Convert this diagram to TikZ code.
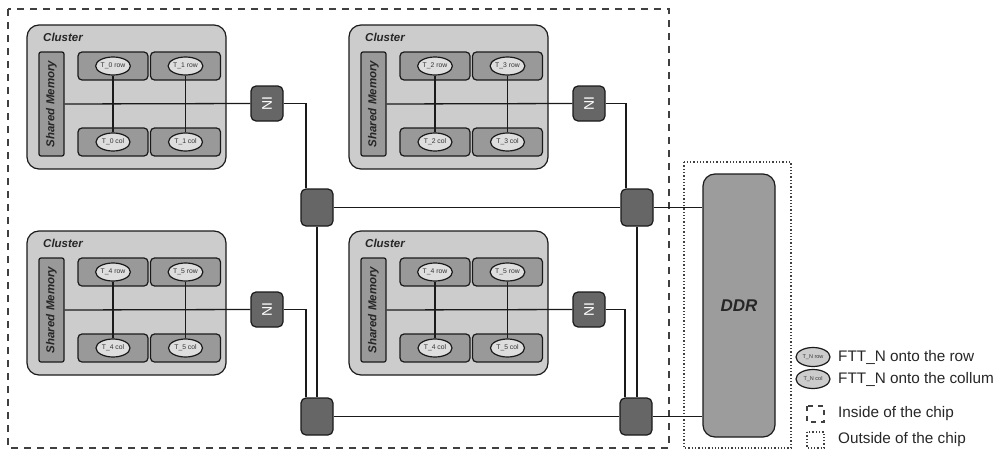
\documentclass[tikz,border=0pt]{standalone}
\usepackage{fontspec}
\setmainfont{Liberation Sans}
\usetikzlibrary{calc,shapes.geometric}
\definecolor{clfill}{HTML}{CCCCCC}
\definecolor{boxfill}{HTML}{999999}
\definecolor{ellfill}{HTML}{DEDEDE}
\definecolor{nifill}{HTML}{666666}
\definecolor{ddrfill}{HTML}{9C9C9C}
\definecolor{linec}{HTML}{1A1A1A}
\definecolor{bordc}{HTML}{404040}
\definecolor{smalltext}{HTML}{333333}
\tikzset{
  clusterbox/.style={draw=linec, line width=1.2pt, fill=clfill, rounded corners=12pt, minimum width=199pt, minimum height=144pt, inner sep=0pt},
  cltitle/.style={font=\fontsize{11.5}{13}\selectfont\bfseries\itshape, text=black!85, inner sep=0pt},
  smbox/.style={draw=linec, line width=1.2pt, fill=boxfill, rounded corners=2pt, minimum width=25pt, minimum height=104pt, inner sep=0pt},
  smtext/.style={font=\fontsize{11.5}{13}\selectfont\bfseries\itshape, text=black!85, rotate=90, inner sep=0pt},
  tbox/.style={draw=linec, line width=1.2pt, fill=boxfill, rounded corners=4pt, minimum width=70pt, minimum height=28pt, inner sep=0pt},
  ell/.style={ellipse, draw=linec, line width=1.2pt, fill=ellfill, minimum width=34pt, minimum height=18pt, inner sep=0pt, font=\fontsize{6.8}{7}\selectfont, text=smalltext},
  lell/.style={ellipse, draw=linec, line width=1.2pt, fill=clfill, minimum width=34pt, minimum height=19pt, inner sep=0pt, font=\fontsize{5.5}{6}\selectfont, text=smalltext},
  nibox/.style={draw=linec, line width=1.2pt, fill=nifill, rounded corners=5pt, minimum width=32pt, minimum height=35pt, inner sep=0pt},
  nitext/.style={font=\fontsize{14}{16}\selectfont, text=white, rotate=90, inner sep=0pt},
  router/.style={draw=linec, line width=1.2pt, fill=nifill, rounded corners=5pt, minimum width=32pt, minimum height=37pt, inner sep=0pt},
  ddrbox/.style={draw=linec, line width=1.2pt, fill=ddrfill, rounded corners=12pt, minimum width=72pt, minimum height=263pt, inner sep=0pt, font=\fontsize{17}{20}\selectfont\bfseries\itshape, text=black!85},
  conn/.style={draw=linec, line width=1.3pt},
  chipborder/.style={draw=bordc, line width=1.2pt, dash pattern=on 7pt off 6pt},
  outborder/.style={draw=bordc, line width=1.2pt, dash pattern=on 1.3pt off 2pt},
  legtext/.style={font=\fontsize{15.3}{18}\selectfont, text=black!85, anchor=west, inner sep=0pt},
}
\newcommand{\mycluster}[7]{%
\begin{scope}[shift={(#1,#2)}]
  \node[clusterbox] (#3) at (99.5,72) {};
  \node[cltitle, anchor=west] (#3-t) at (16,12) {Cluster};
  \node[smbox] (#3-sm) at (24.5,79) {};
  \node[smtext] (#3-smt) at (24.5,79) {Shared Memory};
  \node[tbox] (#3-b1) at (86,41) {};
  \node[tbox] (#3-b2) at (158.5,41) {};
  \node[tbox] (#3-b3) at (86,117) {};
  \node[tbox] (#3-b4) at (158.5,117) {};
  \node[ell] (#3-e1) at (86,41) {#4};
  \node[ell] (#3-e2) at (158.5,41) {#5};
  \node[ell] (#3-e3) at (86,117) {#6};
  \node[ell] (#3-e4) at (158.5,117) {#7};
  \node[nibox] (#3-ni) at (240,78.5) {};
  \node[nitext] (#3-nit) at (240,78.5) {NI};
  \draw[conn] (#3-sm.east) -- (#3-ni.west);
  \draw[conn] (#3-e1.south) -- (#3-e3.north);
  \draw[conn] (#3-e2.south) -- (#3-e4.north);
\end{scope}}
\begin{document}
\begin{tikzpicture}[x=1pt,y=-1pt]
\useasboundingbox (0,0) rectangle (997,450);
% chip border
\coordinate (chipA) at (8,9);
\coordinate (chipB) at (669,448);
\draw[chipborder] (chipA) rectangle (chipB);
% outside border
\coordinate (outA) at (684,162);
\coordinate (outB) at (791,448);
\draw[outborder] (outA) rectangle (outB);

\mycluster{27}{25}{tl}{T\_0 row}{T\_1 row}{T\_0 col}{T\_1 col}
\mycluster{349}{25}{tr}{T\_2 row}{T\_3 row}{T\_2 col}{T\_3 col}
\mycluster{27}{231}{bl}{T\_4 row}{T\_5 row}{T\_4 col}{T\_5 col}
\mycluster{349}{231}{br}{T\_4 row}{T\_5 row}{T\_4 col}{T\_5 col}

% routers
\node[router] (rtl) at (317,207.5) {};
\node[router] (rtr) at (637,207.5) {};
\node[router] (rbl) at (317,416.5) {};
\node[router] (rbr) at (636,416.5) {};

% DDR
\node[ddrbox] (ddr) at (739,305.5) {DDR};

% connectors
\draw[conn] (tl-ni.east) -| ($(rtl.north)+(-11,0)$);
\draw[conn] (bl-ni.east) -| ($(rbl.north)+(-11,0)$);
\draw[conn] (tr-ni.east) -| ($(rtr.north)+(-11,0)$);
\draw[conn] (br-ni.east) -| ($(rbr.north)+(-11,0)$);
\draw[conn] (rtl.east) -- (rtr.west);
\draw[conn] (rbl.east) -- (rbr.west);
\draw[conn] (rtl.south) -- (rbl.north);
\draw[conn] (rtr.south) -- (rtr.south |- rbr.north);
\draw[conn] (rtr.east) -- (rtr.east -| ddr.west);
\draw[conn] (rbr.east) -- (rbr.east -| ddr.west);

% legend
\node[lell] (lg1) at (813,357) {T\_N row};
\node[legtext] (lg1t) at (838,357) {FTT\_N onto the row};
\node[lell] (lg2) at (813,379) {T\_N col};
\node[legtext] (lg2t) at (838,379) {FTT\_N onto the collum};
\coordinate (lg3a) at (807,406);
\coordinate (lg3b) at (824,422);
\draw[draw=bordc, line width=1.2pt, dash pattern=on 5pt off 5pt] (lg3a) rectangle (lg3b);
\node[legtext] (lg3t) at (838,414) {Inside of the chip};
\coordinate (lg4a) at (807,432);
\coordinate (lg4b) at (824,448);
\draw[outborder] (lg4a) rectangle (lg4b);
\node[legtext] (lg4t) at (838,440) {Outside of the chip};
\end{tikzpicture}
\end{document}
